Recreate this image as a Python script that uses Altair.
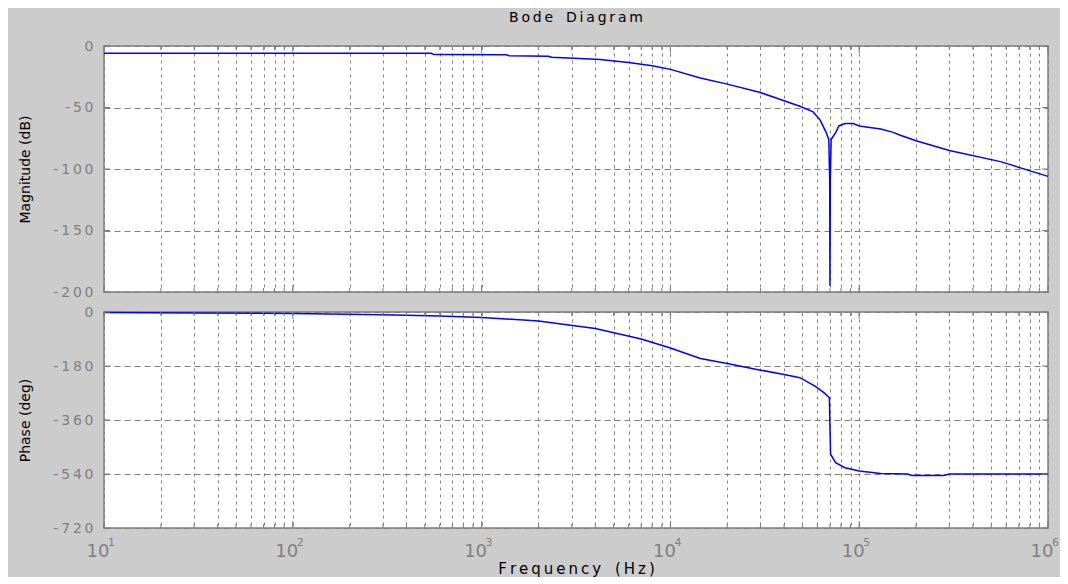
import altair as alt
import pandas as pd

# ---------------- data ----------------
mag_freq = [10, 300, 540, 560, 1350, 1400, 2250, 2350, 3300, 4240, 6000, 8000,
            10000, 14400, 20000, 29600, 40000, 48500, 57000, 62000, 66700, 69000,
            69800, 70000, 70300, 71000, 75300, 78000, 84000, 93000, 100000,
            130000, 150000, 165000, 200000, 300000, 560000, 1000000]
mag_db = [-5.8, -5.8, -5.9, -7.0, -7.2, -7.9, -8.3, -9.2, -10.2, -11.0, -13.5, -16.0,
          -19.0, -26.0, -31.0, -37.6, -44.5, -49.0, -53.6, -60.0, -70.0, -76.0,
          -110.0, -195.0, -110.0, -76.0, -70.0, -65.0, -63.0, -63.0, -65.0,
          -67.5, -70.0, -72.5, -77.0, -85.0, -94.0, -106.0]

ph_freq = [10, 30, 100, 300, 600, 1000, 2000, 4000, 7000, 10000, 14400, 20000,
           29600, 40000, 48500, 58300, 65000, 69500, 70000, 70500, 75000, 84000,
           100000, 130000, 180000, 190000, 280000, 300000, 1000000]
ph_deg = [-2, -3, -5, -9, -13, -18, -30, -55, -90, -120, -155, -172,
          -193, -208, -219, -247, -269, -286, -380, -474, -502, -519,
          -530, -538, -540, -545, -545, -540, -540]

mag_ticks = [0, -50, -100, -150, -200]
mag_tick_labels = ["0", "-50", "-100", "-150", "-200"]
ph_ticks = [0, -180, -360, -540, -720]
ph_tick_labels = ["0", "-180", "-360", "-540", "-720"]
decades = [10, 100, 1000, 10000, 100000, 1000000]
decade_exp = ["1", "2", "3", "4", "5", "6"]
minor_ticks = [m * 10 ** k for k in range(1, 6) for m in range(1, 10)] + [10 ** 6]

title_text = "Bode Diagram"
x_title = "Frequency (Hz)"
mag_title = "Magnitude (dB)"
ph_title = "Phase (deg)"

# ---------------- styling ----------------
W, H1, H2 = 944, 246, 216
FONT = "DejaVu Sans"
LBL = "#7f7f7f"
FRAME = "#7f7f7f"
GRID = "#808080"
BLUE = "#0000ff"
THIN = "\u2009"


def spread(s):
    return THIN.join(ch if ch != " " else THIN + " " for ch in s)


def label_expr(vals, labels):
    expr = "''"
    for v, l in reversed(list(zip(vals, labels))):
        expr = f"datum.value == {v} ? '{spread(l)}' : ({expr})"
    return expr


xscale = alt.Scale(type="log", domain=[10, 1000000], nice=False)


def x_enc(title=None):
    return alt.X(
        "f:Q", scale=xscale,
        axis=alt.Axis(values=minor_ticks, grid=True, gridDash=[3, 4], gridColor=GRID,
                      gridOpacity=1, gridWidth=1, labels=False, ticks=False, tickSize=0,
                      domain=False, title=title, titleFont=FONT, titleFontSize=15,
                      titleFontWeight="normal", titleColor="black", titlePadding=33,
                      minExtent=0, maxExtent=0),
    )


def y_enc(domain, vals, labels, title):
    return alt.Y(
        "v:Q", scale=alt.Scale(domain=domain, nice=False, zero=False),
        axis=alt.Axis(values=vals, grid=True, gridDash=[6, 4], gridColor=GRID,
                      gridOpacity=1, gridWidth=1, labelExpr=label_expr(vals, labels),
                      labelFont=FONT, labelFontSize=14, labelColor=LBL, labelPadding=11,
                      ticks=False, tickSize=0, domain=False, title=title,
                      titleFont=FONT, titleFontSize=14, titleFontWeight="normal",
                      titleColor="black", titlePadding=12, minExtent=60, maxExtent=60),
    )


def edge_ticks(H, xenc, yenc, yvals):
    layers = []
    dmin = pd.DataFrame({"f": minor_ticks})
    dmaj = pd.DataFrame({"f": decades})
    for d, size in ((dmin, 4), (dmaj, 7)):
        b = alt.Chart(d).mark_rule(color=FRAME, strokeWidth=1)
        layers.append(b.encode(x=xenc, y=alt.value(0), y2=alt.value(size)))
        layers.append(b.encode(x=xenc, y=alt.value(H - size), y2=alt.value(H)))
    dy = pd.DataFrame({"v": yvals})
    b = alt.Chart(dy).mark_rule(color=FRAME, strokeWidth=1)
    layers.append(b.encode(y=yenc, x=alt.value(0), x2=alt.value(6)))
    layers.append(b.encode(y=yenc, x=alt.value(W - 6), x2=alt.value(W)))
    return layers


# ---------------- magnitude panel ----------------
mag_df = pd.DataFrame({"f": mag_freq, "v": mag_db})
xenc_m = x_enc(None)
yenc_m = y_enc([-200, 0], mag_ticks, mag_tick_labels, mag_title)
mag_line = alt.Chart(mag_df).mark_line(color=BLUE, strokeWidth=1.5).encode(
    x=xenc_m, y=yenc_m)
top = alt.layer(mag_line, *edge_ticks(H1, xenc_m, yenc_m, mag_ticks)).properties(
    width=W, height=H1,
    title=alt.TitleParams(spread(title_text), font=FONT, fontSize=14, fontWeight="normal",
                          color="black", anchor="middle", frame="group", offset=14),
)

# ---------------- phase panel ----------------
ph_df = pd.DataFrame({"f": ph_freq, "v": ph_deg})
xenc_p = x_enc(spread(x_title))
yenc_p = y_enc([-720, 0], ph_ticks, ph_tick_labels, ph_title)
ph_line = alt.Chart(ph_df).mark_line(color=BLUE, strokeWidth=1.5).encode(
    x=xenc_p, y=yenc_p)

dec_df = pd.DataFrame({"f": decades, "e": decade_exp})
lab10 = alt.Chart(dec_df).mark_text(
    text="10", font=FONT, fontSize=18, color=LBL, align="center", baseline="alphabetic",
    dx=-6).encode(x=xenc_p, y=alt.value(H2 + 29))
labexp = alt.Chart(dec_df).mark_text(
    font=FONT, fontSize=11, color=LBL, align="left", baseline="alphabetic",
    dx=4).encode(x=xenc_p, y=alt.value(H2 + 18), text="e:N")

bottom = alt.layer(ph_line, lab10, labexp,
                   *edge_ticks(H2, xenc_p, yenc_p, ph_ticks)).properties(
    width=W, height=H2)

chart = alt.vconcat(top, bottom, spacing=4).properties(
    background="#cccccc",
    padding={"left": 9, "top": 2, "right": 0, "bottom": 0},
).configure_view(stroke=FRAME, strokeWidth=1.5, fill="white")

chart.save("out.html", embed_options={"renderer": "svg", "actions": False})
